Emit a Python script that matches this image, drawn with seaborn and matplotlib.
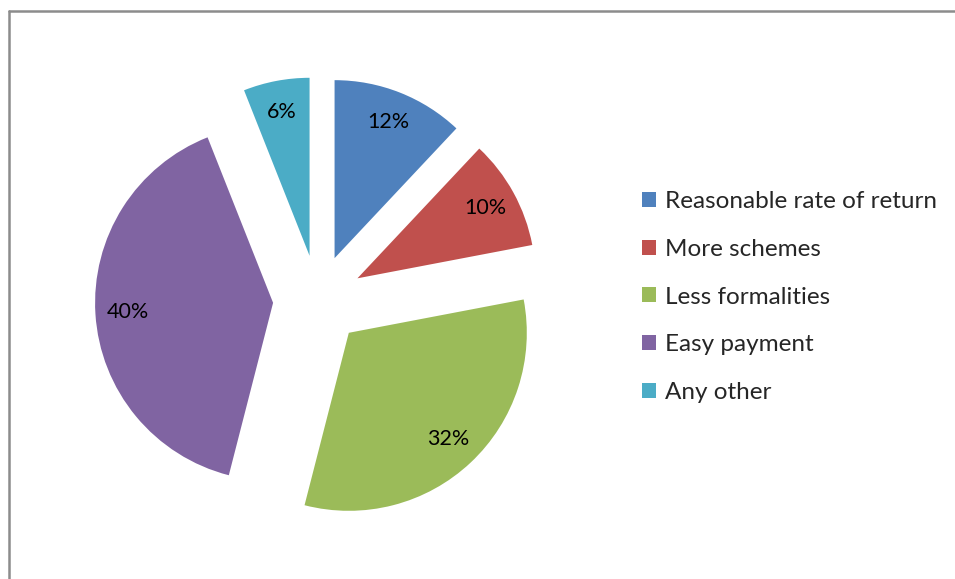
import matplotlib
matplotlib.use("Agg")
import matplotlib.pyplot as plt
from matplotlib.lines import Line2D
import seaborn as sns

categories = ["Reasonable rate of return", "More schemes", "Less formalities",
              "Easy payment", "Any other"]
shares = [12, 10, 32, 40, 6]
colors = ["#4F81BD", "#C0504D", "#9BBB59", "#8064A2", "#4BACC6"]

sns.set_theme(style="white")
plt.rcParams["font.family"] = ["Lato", "DejaVu Sans"]

W, H, DPI = 955, 579, 100
fig = plt.figure(figsize=(W / DPI, H / DPI), dpi=DPI)
fig.patch.set_facecolor("white")

# axes spans the figure; one data unit = the pie radius in pixels
R = 178.0
cx, cy = 318.0, 300.0
ax = fig.add_axes([0, 0, 1, 1])

wedges, texts, autotexts = ax.pie(
    shares,
    colors=colors,
    startangle=90,
    counterclock=False,
    explode=[45 / R] * len(shares),
    autopct=lambda p: f"{p:.0f}%",
    pctdistance=0.82,
    radius=1.0,
    wedgeprops=dict(linewidth=0),
    textprops=dict(fontsize=15.5, color="black"),
    frame=True,
)
ax.set_xlim(-cx / R, (W - cx) / R)
ax.set_ylim(-(H - cy) / R, cy / R)
ax.set_aspect("auto")
ax.axis("off")

leg = ax.legend(
    wedges, categories,
    loc="center left",
    bbox_to_anchor=(642 / W, 1 - 297 / H),
    bbox_transform=fig.transFigure,
    frameon=False,
    fontsize=17.5,
    handlelength=0.58,
    handleheight=0.58,
    handletextpad=0.37,
    labelspacing=1.1,
    borderpad=0,
    borderaxespad=0,
)

# chart border (top and left edges visible)
fig.add_artist(Line2D([8.5 / W, 1.0], [1 - 10.5 / H, 1 - 10.5 / H],
                      transform=fig.transFigure, color="#8c8c8c", linewidth=1.8))
fig.add_artist(Line2D([8.5 / W, 8.5 / W], [0.0, 1 - 10.5 / H],
                      transform=fig.transFigure, color="#8c8c8c", linewidth=1.8))

fig.savefig("out.png", dpi=DPI)
